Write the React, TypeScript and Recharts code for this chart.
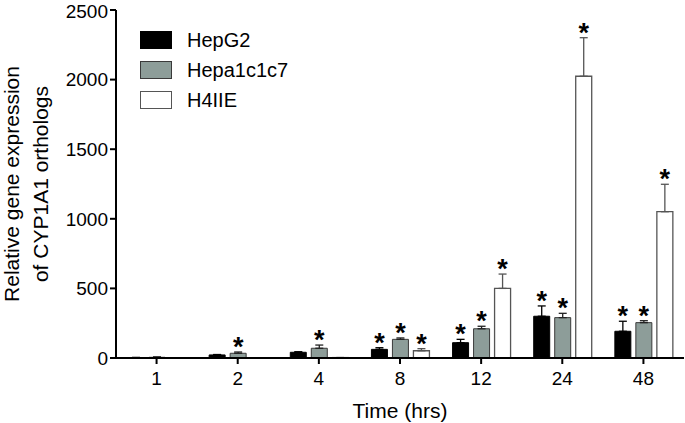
import React from "react";
import { BarChart, Bar, XAxis, YAxis, ErrorBar, LabelList, Legend } from "recharts";

const FONT = "'Liberation Sans', Arial, Helvetica, sans-serif";

const hours = ["1", "2", "4", "8", "12", "24", "48"];
const seriesNames = ["HepG2", "Hepa1c1c7", "H4IIE"];
const hepg2 = [3, 22, 41, 62, 110, 300, 192];
const hepg2Err = [1, 3, 4, 12, 24, 74, 72];
const hepa = [5, 34, 70, 134, 210, 290, 254];
const hepaErr = [3, 9, 23, 10, 18, 31, 14];
const h4iie = [1, 2, 3, 52, 500, 2024, 1051];
const h4iieErr = [0, 0, 0, 15, 103, 277, 197];
// 1 = marked with an asterisk
const hepg2Sig = [0, 0, 0, 1, 1, 1, 1];
const hepaSig = [0, 1, 1, 1, 1, 1, 1];
const h4iieSig = [0, 0, 0, 1, 1, 1, 1];
const yTicks = [0, 500, 1000, 1500, 2000, 2500];

const fills = ["#000000", "#8d9d99", "#ffffff"];
const strokes = ["#000000", "#3a3a3a", "#555555"];

const data = hours.map((h, i) => ({
  hour: h,
  hepg2: hepg2[i],
  hepg2E: [0, hepg2Err[i]],
  hepa: hepa[i],
  hepaE: [0, hepaErr[i]],
  h4iie: h4iie[i],
  h4iieE: [0, h4iieErr[i]],
}));

const star = (errs: number[], sig: number[]) => (props: any) => {
  const vb = props.viewBox || props;
  const { x, y, width, height } = vb;
  const index = props.index;
  const value = props.value;
  if (!sig[index] || !value) return null;
  const k = Math.abs(height) / value;
  const top = y - errs[index] * k;
  return (
    <text
      x={x + width / 2}
      y={top + 4}
      textAnchor="middle"
      fontSize={27}
      fontWeight="bold"
      fontFamily={FONT}
      fill="#000"
    >
      *
    </text>
  );
};

const yLabel = (props: any) => {
  const vb = props.viewBox;
  const cy = vb.y + vb.height / 2;
  return (
    <g fontFamily={FONT} fontSize={21} fill="#000">
      <text x={19} y={cy} transform={`rotate(-90, 19, ${cy})`} textAnchor="middle">
        Relative gene expression
      </text>
      <text x={48} y={cy} transform={`rotate(-90, 48, ${cy})`} textAnchor="middle">
        of CYP1A1 orthologs
      </text>
    </g>
  );
};

const xLabel = (props: any) => {
  const vb = props.viewBox;
  return (
    <text
      x={vb.x + vb.width / 2}
      y={vb.y + 60}
      textAnchor="middle"
      fontFamily={FONT}
      fontSize={21}
      fill="#000"
    >
      Time (hrs)
    </text>
  );
};

const legendBox = () => (
  <div style={{ fontFamily: FONT, fontSize: 20, color: "#000" }}>
    {seriesNames.map((name, i) => (
      <div key={name} style={{ display: "flex", alignItems: "center", height: 30 }}>
        <div
          style={{
            width: 30,
            height: 16,
            background: fills[i],
            border: `1px solid ${strokes[i]}`,
            marginRight: 15,
          }}
        />
        <span>{name}</span>
      </div>
    ))}
  </div>
);

export default function App() {
  const tick = { fill: "#000", fontSize: 19, fontFamily: FONT };
  return (
    <div style={{ position: "absolute", left: 0, top: 0, width: 685, height: 423, background: "#fff" }}>
      <BarChart
        width={685}
        height={423}
        data={data}
        margin={{ top: 10, right: 1, bottom: 0, left: 0 }}
        barSize={16}
        barGap={5}
      >
        <XAxis
          dataKey="hour"
          height={65}
          tickSize={6}
          tickMargin={8}
          stroke="#000"
          strokeWidth={2}
          tick={tick}
          label={{ content: xLabel }}
        />
        <XAxis
          xAxisId="top"
          dataKey="hour"
          orientation="top"
          height={0}
          tick={false}
          tickLine={false}
          stroke="#000"
          strokeWidth={2}
        />
        <YAxis
          width={116}
          domain={[0, 2500]}
          ticks={yTicks}
          tickSize={6}
          tickMargin={2}
          stroke="#000"
          strokeWidth={2}
          tick={tick}
          label={{ content: yLabel }}
        />
        <YAxis
          yAxisId="right"
          orientation="right"
          width={0}
          domain={[0, 2500]}
          tick={false}
          tickLine={false}
          stroke="#000"
          strokeWidth={2}
        />
        <Legend
          layout="vertical"
          align="center"
          verticalAlign="middle"
          content={legendBox}
          wrapperStyle={{ left: 140, top: 25, width: 200 }}
        />
        <Bar dataKey="hepg2" fill={fills[0]} stroke={strokes[0]} strokeWidth={1} isAnimationActive={false}>
          <ErrorBar dataKey="hepg2E" width={4} stroke="#000" strokeWidth={1.3} direction="y" isAnimationActive={false} />
          <LabelList dataKey="hepg2" content={star(hepg2Err, hepg2Sig)} />
        </Bar>
        <Bar dataKey="hepa" fill={fills[1]} stroke={strokes[1]} strokeWidth={1} isAnimationActive={false}>
          <ErrorBar dataKey="hepaE" width={4} stroke="#222" strokeWidth={1.3} direction="y" isAnimationActive={false} />
          <LabelList dataKey="hepa" content={star(hepaErr, hepaSig)} />
        </Bar>
        <Bar dataKey="h4iie" fill={fills[2]} stroke={strokes[2]} strokeWidth={1.3} isAnimationActive={false}>
          <ErrorBar dataKey="h4iieE" width={4} stroke="#555" strokeWidth={1.3} direction="y" isAnimationActive={false} />
          <LabelList dataKey="h4iie" content={star(h4iieErr, h4iieSig)} />
        </Bar>
      </BarChart>
    </div>
  );
}
